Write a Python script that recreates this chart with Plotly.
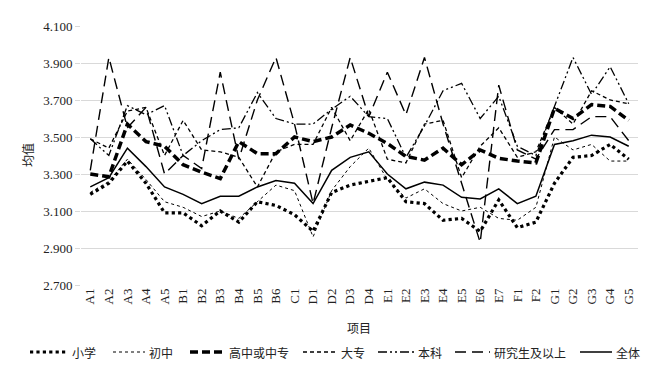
import plotly.graph_objects as go

categories = ["A1","A2","A3","A4","A5","B1","B2","B3","B4","B5","B6","C1",
              "D1","D2","D3","D4","E1","E2","E3","E4","E5","E6","E7","F1","F2",
              "G1","G2","G3","G4","G5"]

xiaoxue = [3.19,3.25,3.37,3.25,3.09,3.09,3.02,3.10,3.04,3.15,3.13,3.08,
           2.99,3.20,3.24,3.26,3.28,3.15,3.14,3.05,3.06,2.99,3.16,3.01,3.04,
           3.25,3.39,3.40,3.46,3.38]
chuzhong = [3.20,3.26,3.38,3.27,3.15,3.12,3.07,3.10,3.06,3.15,3.24,3.21,
            2.96,3.21,3.34,3.44,3.27,3.17,3.22,3.14,3.10,3.12,3.06,3.05,3.12,
            3.50,3.43,3.46,3.37,3.37]
gaozhong = [3.30,3.285,3.57,3.475,3.45,3.35,3.31,3.275,3.475,3.41,3.41,3.50,
            3.475,3.50,3.565,3.52,3.465,3.395,3.375,3.44,3.35,3.43,3.385,3.37,3.36,
            3.655,3.60,3.675,3.665,3.59]
dazhuan = [3.49,3.44,3.64,3.66,3.40,3.59,3.43,3.42,3.39,3.23,3.42,3.46,
           3.46,3.66,3.48,3.65,3.38,3.36,3.57,3.59,3.28,3.45,3.55,3.39,3.42,
           3.66,3.57,3.75,3.70,3.68]
benke = [3.49,3.40,3.67,3.62,3.67,3.40,3.48,3.54,3.55,3.74,3.60,3.57,
         3.57,3.65,3.72,3.61,3.60,3.39,3.56,3.75,3.79,3.60,3.72,3.45,3.40,
         3.66,3.93,3.73,3.88,3.68]
yanjiusheng = [3.32,3.93,3.55,3.66,3.30,3.40,3.33,3.85,3.38,3.70,3.93,3.57,
               3.14,3.55,3.93,3.61,3.85,3.62,3.93,3.57,3.25,2.93,3.78,3.43,3.38,
               3.54,3.54,3.61,3.61,3.48]
quanti = [3.23,3.28,3.44,3.34,3.23,3.19,3.14,3.18,3.18,3.23,3.265,3.25,
          3.14,3.32,3.39,3.42,3.30,3.22,3.256,3.24,3.174,3.165,3.22,3.14,3.18,
          3.46,3.48,3.51,3.50,3.45]

series_names = ["小学", "初中", "高中或中专", "大专", "本科", "研究生及以上", "全体"]
y_ticks = [2.7, 2.9, 3.1, 3.3, 3.5, 3.7, 3.9, 4.1]

styles = [
    dict(width=3.2, dash="dot"),
    dict(width=1, dash="dot"),
    dict(width=3.5, dash="8px,4px"),
    dict(width=1.3, dash="4px,3px"),
    dict(width=1.3, dash="9px,3px,2px,3px,2px,3px"),
    dict(width=1.4, dash="11px,6px"),
    dict(width=1.5, dash="solid"),
]
all_values = [xiaoxue, chuzhong, gaozhong, dazhuan, benke, yanjiusheng, quanti]

W, H = 668, 365
L, R, T, B = 81, 30, 26, 80
PW, PH = W - L - R, H - T - B

def px(x):
    return (x - L) / PW

def py(y):
    return (H - B - y) / PH

fig = go.Figure()
for name, vals, ls in zip(series_names, all_values, styles):
    fig.add_trace(go.Scatter(x=categories, y=vals, mode="lines", name=name,
                             line=dict(color="black", **ls), showlegend=False))

serif = "Liberation Serif"
cjk = "Noto Sans CJK SC"

# manual legend (single row, like the reference)
legend_sym = [(30, 68), (113, 145), (190, 225), (303, 337), (378, 414), (455, 490), (580, 612)]
legend_y = 352
shapes = []
annotations = []
for (x0, x1), name, ls in zip(legend_sym, series_names, styles):
    shapes.append(dict(type="line", xref="paper", yref="paper",
                       x0=px(x0), x1=px(x1), y0=py(legend_y), y1=py(legend_y),
                       line=dict(color="black", width=ls["width"], dash=ls["dash"])))
    annotations.append(dict(text=name, xref="paper", yref="paper",
                            x=px(x1 + 2), y=py(legend_y), xanchor="left", yanchor="middle",
                            showarrow=False, font=dict(size=12, family=cjk, color="#222")))

annotations.append(dict(text="项目", xref="paper", yref="paper", x=px(359), y=py(327),
                        xanchor="center", yanchor="middle", showarrow=False,
                        font=dict(size=12, family=cjk, color="#222")))
annotations.append(dict(text="均值", xref="paper", yref="paper", x=px(27), y=py(155),
                        xanchor="center", yanchor="middle", textangle=-90, showarrow=False,
                        font=dict(size=12, family=cjk, color="#222")))

fig.update_layout(
    width=W, height=H,
    margin=dict(l=L, r=R, t=T, b=B, autoexpand=False),
    plot_bgcolor="white", paper_bgcolor="white",
    font=dict(family=serif, size=13, color="#222"),
    showlegend=False,
    xaxis=dict(type="category", tickangle=-90, showgrid=False, showline=False,
               ticks="", tickfont=dict(size=13, family=serif), range=[-0.5, 29.5],
               automargin=False),
    yaxis=dict(range=[2.7, 4.1], tickvals=y_ticks, tickformat=".3f",
               showgrid=True, gridcolor="#d9d9d9", gridwidth=1,
               ticks="outside", ticklen=5, tickcolor="#d9d9d9",
               zeroline=False, showline=False, tickfont=dict(size=13, family=serif),
               automargin=False),
    shapes=shapes,
    annotations=annotations,
)

fig.write_html("out.html", config={"displayModeBar": False},
               post_script="document.body.style.margin='0';document.body.style.padding='0';")
